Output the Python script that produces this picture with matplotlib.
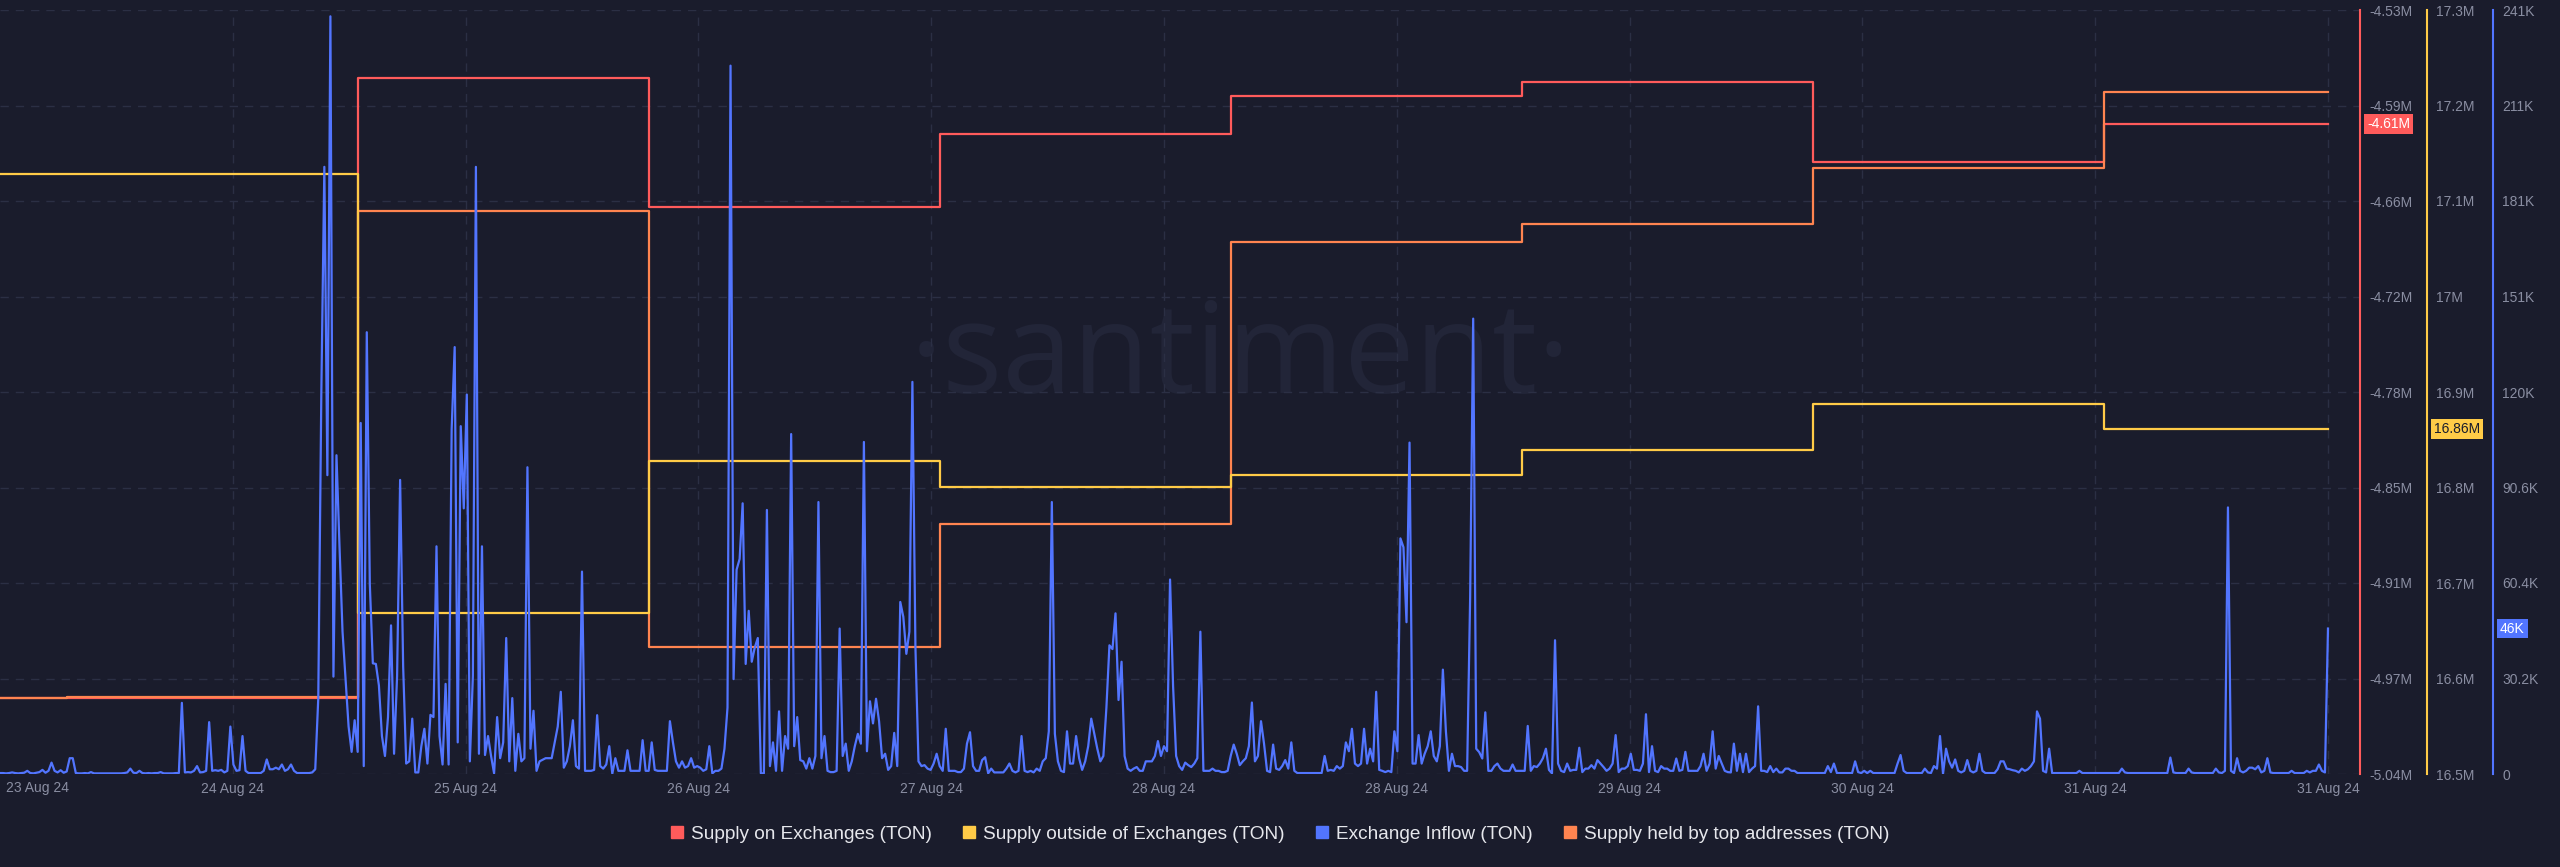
import numpy as np
import matplotlib
matplotlib.use('Agg')
from matplotlib import pyplot as plt
from matplotlib import transforms
from matplotlib.lines import Line2D

plt.rcParams['font.family'] = ['Liberation Sans', 'DejaVu Sans']

bg = '#1a1c2c'
grid_c = '#2b2f44'
text_c = '#8a8ea2'
red = '#ff5b5b'
yellow = '#ffcb47'
blue = '#5275ff'
orange = '#ff8450'

# daily values 23 Aug .. 31 Aug (new value lands at 00:00 UTC = 05:30 local)
supply_on_exchanges = [-4.989, -4.989, -4.5754, -4.6615, -4.6128, -4.5871, -4.5781, -4.6315, -4.606]  # M TON
supply_outside = [17.128, 17.128, 16.669, 16.828, 16.8005, 16.813, 16.839, 16.887, 16.861]  # M TON
supply_top_holders = [44.080, 44.081, 44.590, 44.133, 44.262, 44.557, 44.576, 44.635, 44.714]  # M TON (no axis shown)

# exchange inflow, 15 min candles, K TON
inflow_aug24 = [0.3, 0.3, 0.2, 0.3, 0.5, 0.3, 0.2, 0.3, 0.4, 1.0,
                0.3, 0.2, 0.4, 0.6, 1.3, 0.4, 1.0, 3.6, 1.0, 0.5,
                1.2, 0.4, 0.8, 5.0, 5.0, 0.3, 0.2, 0.2, 0.3, 0.2,
                0.6, 0.2, 0.2, 0.2, 0.2, 0.2, 0.2, 0.2, 0.2, 0.2,
                0.2, 0.3, 0.5, 1.7, 0.4, 0.3, 1.0, 0.3, 0.2, 0.3,
                0.2, 0.3, 0.3, 0.6, 0.2, 0.2, 0.2, 0.2, 0.3, 0.3,
                22.5, 0.5, 0.6, 0.5, 1.0, 2.5, 0.5, 0.6, 1.0, 16.4,
                1.0, 1.2, 1.0, 1.3, 0.5, 1.0, 15.0, 3.0, 1.0, 1.2,
                12.0, 1.0, 0.3, 0.3, 0.3, 0.3, 0.3, 1.0, 4.6, 1.5,
                1.5, 2.0, 1.5, 3.0, 1.0, 1.5]
inflow_aug25 = [3.0, 1.0, 0.3, 0.3, 0.3, 0.3, 0.3, 0.5, 1.5, 24.0,
                120.0, 192.0, 94.5, 239.6, 30.8, 100.8, 72.0, 45.0, 30.0, 15.0,
                7.0, 17.0, 7.0, 111.0, 2.5, 139.7, 60.0, 35.0, 34.8, 28.0,
                12.0, 5.7, 18.0, 47.0, 6.4, 31.0, 93.0, 34.0, 3.3, 4.0,
                17.5, 0.5, 0.5, 8.8, 14.3, 3.3, 18.7, 18.0, 72.0, 12.0,
                3.0, 28.5, 3.0, 109.0, 135.0, 10.0, 110.0, 84.0, 120.0, 4.0,
                31.0, 192.0, 6.4, 72.0, 6.0, 12.0, 5.7, 0.2, 18.0, 5.0,
                10.0, 43.0, 4.0, 24.0, 1.0, 12.7, 4.0, 5.0, 97.0, 8.0,
                20.0, 1.0, 4.0, 4.5, 5.0, 5.0, 5.0, 10.0, 15.0, 26.0,
                2.0, 4.0, 8.8, 17.0, 2.5, 1.7]
inflow_aug26 = [64.0, 1.0, 1.0, 1.0, 1.3, 18.6, 2.5, 1.7, 3.0, 8.8,
                0.1, 5.0, 1.0, 1.0, 1.0, 7.5, 1.0, 1.0, 1.0, 1.0,
                10.7, 1.0, 1.0, 10.0, 1.3, 1.0, 1.0, 1.0, 1.0, 16.7,
                10.0, 4.0, 2.0, 4.0, 2.0, 2.5, 5.0, 2.0, 2.5, 2.0,
                1.0, 1.5, 8.8, 0.2, 1.0, 1.0, 1.7, 8.0, 21.0, 224.0,
                30.0, 64.6, 68.0, 85.6, 34.8, 51.6, 35.5, 40.0, 43.0, 0.2,
                0.2, 83.5, 2.5, 10.0, 1.0, 19.8, 1.0, 12.0, 8.0, 107.5,
                8.8, 18.0, 4.4, 4.0, 1.7, 5.0, 1.7, 5.7, 86.0, 5.0,
                12.0, 1.0, 0.6, 0.6, 1.0, 46.0, 5.7, 9.6, 1.0, 4.0,
                8.8, 12.7, 9.6, 105.0, 7.2, 23.0]
inflow_aug27 = [16.0, 23.8, 16.7, 5.0, 6.4, 1.3, 2.5, 13.0, 2.5, 54.4,
                49.7, 38.0, 45.0, 124.0, 40.0, 4.0, 2.5, 2.8, 1.7, 1.3,
                3.3, 6.4, 2.5, 1.0, 14.3, 1.0, 1.0, 1.0, 0.6, 0.6,
                1.7, 9.6, 13.2, 2.5, 1.0, 1.0, 4.4, 5.3, 0.2, 1.7,
                0.5, 0.5, 0.5, 0.5, 1.7, 3.3, 1.0, 0.5, 1.0, 12.0,
                1.0, 0.6, 1.0, 0.5, 1.7, 1.0, 4.0, 5.0, 13.5, 86.0,
                12.7, 4.0, 1.0, 0.6, 13.5, 3.3, 3.3, 12.0, 5.0, 1.3,
                4.0, 8.8, 17.5, 12.7, 8.0, 4.0, 5.7, 21.0, 40.7, 39.5,
                50.8, 23.4, 35.5, 5.7, 1.7, 1.0, 1.7, 2.2, 1.0, 1.0,
                4.0, 4.0, 4.0, 5.7, 10.4, 5.7]
inflow_aug28 = [8.8, 7.2, 61.5, 27.7, 5.7, 2.5, 1.3, 3.6, 2.8, 2.2,
                3.3, 5.0, 45.0, 1.0, 1.0, 1.0, 1.7, 1.0, 1.0, 0.6,
                0.6, 1.0, 5.7, 9.3, 6.4, 2.8, 4.0, 5.0, 8.8, 22.6,
                4.0, 5.7, 16.7, 9.6, 1.0, 0.6, 9.3, 1.7, 1.3, 2.5,
                4.4, 1.7, 10.0, 1.0, 0.3, 0.3, 0.3, 0.3, 0.3, 0.3,
                0.3, 0.3, 0.3, 5.7, 1.0, 1.3, 1.0, 2.5, 1.7, 2.5,
                10.0, 7.2, 14.3, 3.3, 2.5, 3.3, 14.3, 3.3, 8.0, 4.0,
                26.0, 1.3, 1.0, 0.6, 1.0, 0.6, 13.5, 7.2, 74.5, 71.7,
                48.0, 104.8, 3.3, 3.3, 12.3, 3.3, 6.4, 8.8, 13.5, 5.7,
                4.0, 8.8, 33.0, 13.5, 1.0, 6.4]
inflow_aug29 = [2.5, 2.5, 2.2, 1.0, 1.0, 56.0, 144.0, 8.0, 6.9, 4.9,
                19.5, 1.0, 1.0, 2.5, 3.3, 1.7, 1.0, 1.0, 1.0, 3.0,
                1.0, 1.0, 1.0, 1.0, 15.2, 1.0, 2.5, 2.2, 3.3, 5.0,
                8.0, 1.3, 0.2, 42.3, 3.3, 1.0, 0.6, 3.3, 1.0, 1.3,
                1.3, 8.3, 0.6, 1.7, 1.7, 2.8, 1.7, 4.4, 3.3, 2.2,
                1.0, 1.7, 3.3, 12.3, 0.6, 1.7, 1.7, 2.5, 6.4, 1.3,
                1.3, 1.0, 3.3, 18.9, 0.6, 8.8, 1.0, 0.6, 2.5, 1.7,
                1.7, 1.0, 1.0, 4.9, 1.0, 1.3, 7.0, 1.0, 1.0, 1.0,
                1.0, 2.5, 6.4, 1.0, 3.3, 13.5, 1.7, 5.7, 3.3, 1.0,
                0.6, 0.5, 9.6, 1.0, 6.4, 0.6]
inflow_aug30 = [6.4, 0.6, 1.7, 2.5, 21.4, 1.0, 1.0, 0.6, 2.5, 0.6,
                1.7, 0.5, 0.5, 1.7, 1.7, 1.0, 1.0, 0.3, 0.3, 0.3,
                0.3, 0.3, 0.3, 0.3, 0.3, 0.3, 0.3, 2.5, 0.6, 3.3,
                0.3, 0.3, 0.3, 0.3, 0.3, 0.3, 4.0, 0.6, 0.3, 1.0,
                0.3, 1.0, 0.3, 0.3, 0.3, 0.3, 0.3, 0.3, 0.3, 0.3,
                3.3, 6.0, 1.0, 0.3, 0.3, 0.3, 0.3, 0.3, 0.3, 1.7,
                0.5, 0.3, 2.5, 1.7, 12.0, 0.1, 8.0, 4.0, 2.0, 4.6,
                1.0, 0.5, 1.0, 4.4, 1.0, 0.5, 1.0, 6.4, 1.0, 0.3,
                0.3, 0.3, 0.3, 1.5, 4.0, 4.0, 1.7, 1.5, 1.2, 1.0,
                0.5, 1.7, 1.0, 1.5, 2.5, 4.0]
inflow_aug31 = [19.8, 17.5, 1.0, 0.5, 8.0, 0.3, 0.3, 0.3, 0.3, 0.3,
                0.3, 0.3, 0.3, 0.3, 1.0, 0.3, 0.3, 0.3, 0.3, 0.3,
                0.3, 0.3, 0.3, 0.3, 0.3, 0.3, 0.3, 0.3, 1.7, 0.5,
                0.3, 0.3, 0.3, 0.3, 0.3, 0.3, 0.3, 0.3, 0.3, 0.3,
                0.3, 0.3, 0.3, 0.3, 5.2, 0.5, 0.3, 0.3, 0.3, 0.3,
                1.7, 0.5, 0.3, 0.3, 0.3, 0.3, 0.3, 0.3, 0.3, 1.7,
                0.5, 0.3, 1.0, 84.3, 1.0, 0.3, 5.0, 1.0, 0.5, 1.0,
                2.0, 2.0, 1.5, 2.5, 0.5, 1.0, 5.0, 0.5, 0.3, 0.3,
                0.3, 0.3, 0.3, 0.3, 1.0, 0.3, 0.3, 0.3, 0.3, 1.0,
                0.5, 1.0, 1.0, 3.0, 1.0, 0.5, 46.0]

date_labels = ['24 Aug 24', '25 Aug 24', '26 Aug 24', '27 Aug 24', '28 Aug 24',
               '28 Aug 24', '29 Aug 24', '30 Aug 24', '31 Aug 24', '31 Aug 24']
first_label = '23 Aug 24'
red_ticks = ['-5.04M', '-4.97M', '-4.91M', '-4.85M', '-4.78M', '-4.72M', '-4.66M', '-4.59M', '-4.53M']
yellow_ticks = ['16.5M', '16.6M', '16.7M', '16.8M', '16.9M', '17M', '17.1M', '17.2M', '17.3M']
blue_ticks = ['0', '30.2K', '60.4K', '90.6K', '120K', '151K', '181K', '211K', '241K']
legend_labels = ['Supply on Exchanges (TON)', 'Supply outside of Exchanges (TON)',
                 'Exchange Inflow (TON)', 'Supply held by top addresses (TON)']

inflow = np.concatenate([inflow_aug24, inflow_aug25, inflow_aug26, inflow_aug27,
                         inflow_aug28, inflow_aug29, inflow_aug30, inflow_aug31])
x_inflow = np.arange(len(inflow)) / 96.0          # days since 24 Aug 00:00
x_end = x_inflow[-1]
x_step = np.r_[0, 5.5 / 24 + np.arange(8), x_end]


def steps(v):
    return np.r_[v, v[-1]]


fig = plt.figure(figsize=(25.6, 8.67), dpi=100, facecolor=bg)
ax = fig.add_axes([0, 93 / 867, 2360 / 2560, 764 / 867])
ax.set_facecolor(bg)
ax_o = ax.twinx()
ax_y = ax.twinx()
ax_b = ax.twinx()

ax.text(1240 / 2360, 1 - 350 / 764, '\u00b7santiment\u00b7', transform=ax.transAxes,
        ha='center', va='center', fontsize=91, color='#222538', family='Open Sans', zorder=0)

ax.plot(x_step, steps(supply_on_exchanges), drawstyle='steps-post', color=red, lw=1.6)
ax_o.plot(x_step, steps(supply_top_holders), drawstyle='steps-post', color=orange, lw=1.6)
ax_y.plot(x_step, steps(supply_outside), drawstyle='steps-post', color=yellow, lw=1.6)
ax_b.plot(x_inflow, inflow, color=blue, lw=1.6)

ax.set_xlim(0, 8.11)
ax.set_ylim(-5.04, -4.53)
ax_o.set_ylim(44.0, 44.8)
ax_y.set_ylim(16.5, 17.3)
ax_b.set_ylim(0, 241.6)
ax_o.set_axis_off()

ax.set_xticks(0.8 * np.arange(1, len(date_labels) + 1))
ax.set_xticklabels(date_labels)
ax.tick_params(axis='x', length=0, pad=5.5, colors=text_c, labelsize=10)
ax.text(6 / 2360, -14 / 764, first_label, transform=ax.transAxes, ha='left', va='center',
        color=text_c, fontsize=10)
ax.grid(True, color=grid_c, ls=(0, (6, 5)), lw=1)

for a, lo, hi, labels, col, pos in [(ax, -5.04, -4.53, red_ticks, red, 1.0),
                                    (ax_y, 16.5, 17.3, yellow_ticks, yellow, 2427 / 2360),
                                    (ax_b, 0, 241.6, blue_ticks, blue, 2493 / 2360)]:
    for s in ['left', 'top', 'bottom']:
        a.spines[s].set_visible(False)
    a.spines['right'].set_color(col)
    a.spines['right'].set_linewidth(1.5)
    a.spines['right'].set_position(('axes', pos))
    a.yaxis.tick_right()
    a.set_yticks(np.linspace(lo, hi, len(labels)))
    a.set_yticklabels(labels)
    a.tick_params(axis='y', length=0, pad=6.5, colors=text_c, labelsize=10)

# last value badges
for a, v, txt, col, fc, pos in [(ax, supply_on_exchanges[-1], f'{supply_on_exchanges[-1]:.2f}M', 'white', red, 1 + 7 / 2360),
                                (ax_y, supply_outside[-1], f'{supply_outside[-1]:.2f}M', bg, yellow, 1 + 74 / 2360),
                                (ax_b, inflow[-1], f'{inflow[-1]:.0f}K', 'white', blue, 1 + 140 / 2360)]:
    tr = transforms.blended_transform_factory(a.transAxes, a.transData)
    a.text(pos, v, txt, transform=tr, ha='left', va='center', color=col, fontsize=10,
           bbox=dict(boxstyle='square,pad=0.2', fc=fc, ec='none'), clip_on=False, zorder=10)

handles = [Line2D([], [], ls='none', marker='s', ms=9, mfc=c, mec=c) for c in [red, yellow, blue, orange]]
fig.legend(handles, legend_labels, loc='center', bbox_to_anchor=(0.5, 33 / 867), ncol=4,
           frameon=False, fontsize=13.7, labelcolor='#e6e7ec', handlelength=0.7,
           handletextpad=0.4, columnspacing=1.6)

fig.savefig('out.png', dpi=100, facecolor=bg)
